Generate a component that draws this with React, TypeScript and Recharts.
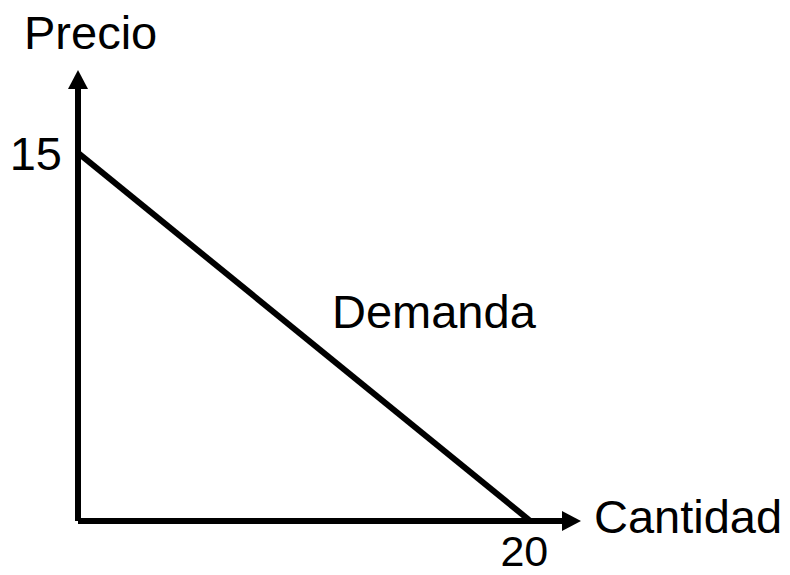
import { LineChart, Line, XAxis, YAxis, ReferenceDot } from "recharts";

// demand curve end points
const cantidad = [0, 20];
const precio = [15, 0];
const xTicks = [20];
const yTicks = [15];

const X_MAX = 21.4; // axis end (arrow base)
const Y_MAX = 17.6;

const data = cantidad.map((q, i) => ({ q, p: precio[i] }));

const FONT = "'Liberation Sans', Arial, sans-serif";

const ArrowRight = (props: any) => {
  const { cx, cy } = props;
  return <polygon points={`${cx},${cy - 10} ${cx + 19},${cy} ${cx},${cy + 10}`} fill="#000" />;
};

const ArrowUp = (props: any) => {
  const { cx, cy } = props;
  return <polygon points={`${cx - 10},${cy} ${cx},${cy - 19} ${cx + 10},${cy}`} fill="#000" />;
};

export default function App() {
  return (
    <div style={{ position: "absolute", left: 0, top: 0, width: 790, height: 575, background: "#fff" }}>
      <LineChart
        width={790}
        height={575}
        data={data}
        margin={{ top: 89, right: 228, bottom: 24, left: 18 }}
        style={{ fontFamily: FONT }}
      >
        <XAxis
          dataKey="q"
          type="number"
          height={30}
          domain={[0, X_MAX]}
          ticks={xTicks}
          tickSize={0}
          tickMargin={14}
          tick={{ fontSize: 43, fill: "#000", dx: -6, fontFamily: FONT }}
          axisLine={{ stroke: "#000", strokeWidth: 6 }}
          allowDataOverflow
        />
        <YAxis
          dataKey="p"
          type="number"
          width={60}
          domain={[0, Y_MAX]}
          ticks={yTicks}
          tickSize={0}
          tickMargin={16}
          tick={{ fontSize: 47, fill: "#000", fontFamily: FONT }}
          axisLine={{ stroke: "#000", strokeWidth: 6 }}
          allowDataOverflow
        />
        <Line
          type="linear"
          dataKey="p"
          stroke="#000"
          strokeWidth={6}
          dot={false}
          isAnimationActive={false}
        />
        <ReferenceDot x={X_MAX} y={0} r={0} shape={ArrowRight} ifOverflow="visible" />
        <ReferenceDot x={0} y={Y_MAX} r={0} shape={ArrowUp} ifOverflow="visible" />
        <text x={24} y={49} fontSize={47} fill="#000" fontFamily={FONT}>Precio</text>
        <text x={594} y={533} fontSize={47} fill="#000" fontFamily={FONT}>Cantidad</text>
        <text x={332} y={328} fontSize={47} fill="#000" fontFamily={FONT}>Demanda</text>
      </LineChart>
    </div>
  );
}
